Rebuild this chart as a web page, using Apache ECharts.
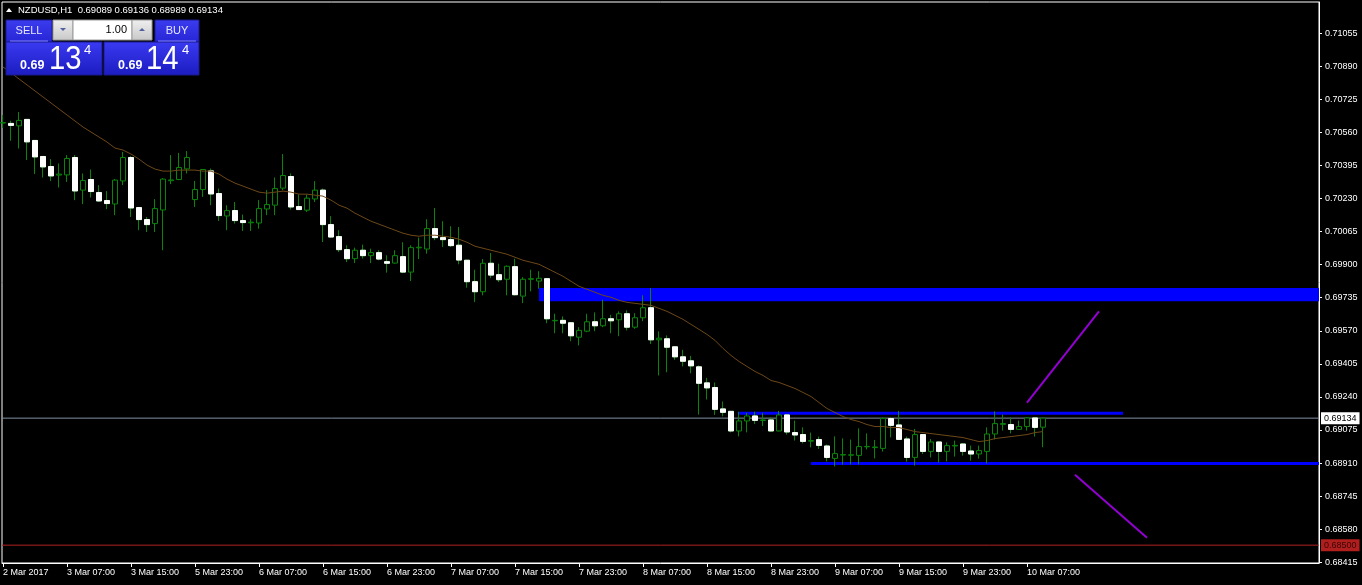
<!DOCTYPE html>
<html><head><meta charset="utf-8">
<script src="https://cdn.jsdelivr.net/npm/echarts@6/dist/echarts.min.js"></script>
<style>html,body{margin:0;padding:0;background:#000;}#c{width:1362px;height:585px;}</style>
</head><body><div id="c"></div>
<script>
// ---- data ----
const symbol = 'NZDUSD,H1';
const open = [
0.70607,0.70605,0.70593,0.70625,0.70520,0.70440,0.70390,0.70347,0.70348,0.70435,
0.70272,0.70325,0.70260,0.70220,0.70203,0.70318,0.70435,0.70185,0.70125,0.70105,
0.70173,0.70319,0.70325,0.70378,0.70225,0.70275,0.70368,0.70255,0.70143,0.70170,
0.70120,0.70109,0.70108,0.70178,0.70197,0.70282,0.70340,0.70190,0.70172,0.70228,
0.70272,0.70100,0.70040,0.69975,0.69930,0.69972,0.69945,0.69960,0.69915,0.69908,
0.69940,0.69863,0.69984,0.69978,0.70080,0.70035,0.70025,0.69997,0.69922,0.69815,
0.69765,0.69907,0.69850,0.69827,0.69890,0.69743,0.69827,0.69818,0.69830,0.69620,
0.69622,0.69610,0.69538,0.69568,0.69615,0.69595,0.69630,0.69625,0.69655,0.69588,
0.69635,0.69685,0.69525,0.69530,0.69490,0.69440,0.69420,0.69390,0.69310,0.69287,
0.69180,0.69168,0.69070,0.69120,0.69145,0.69122,0.69125,0.69070,0.69150,0.69062,
0.69052,0.69019,0.69027,0.68995,0.68933,0.68950,0.68949,0.68948,0.68991,0.68987,
0.68983,0.69132,0.69100,0.69030,0.68938,0.69052,0.68968,0.69015,0.68968,0.68995,
0.69005,0.68970,0.68955,0.68968,0.69055,0.69103,0.69102,0.69078,0.69092,0.69135,
0.69089];
const close = [
0.70609,0.70595,0.70620,0.70513,0.70438,0.70388,0.70343,0.70352,0.70430,0.70268,
0.70320,0.70265,0.70218,0.70205,0.70322,0.70435,0.70183,0.70125,0.70100,0.70180,
0.70327,0.70323,0.70385,0.70435,0.70275,0.70375,0.70253,0.70145,0.70170,0.70120,
0.70110,0.70112,0.70180,0.70200,0.70280,0.70345,0.70188,0.70175,0.70232,0.70272,
0.70100,0.70038,0.69975,0.69930,0.69972,0.69945,0.69960,0.69928,0.69907,0.69945,
0.69863,0.69985,0.69987,0.70080,0.70035,0.70025,0.69995,0.69923,0.69815,0.69765,
0.69907,0.69848,0.69825,0.69892,0.69750,0.69827,0.69830,0.69832,0.69630,0.69622,
0.69608,0.69545,0.69572,0.69615,0.69595,0.69630,0.69620,0.69655,0.69588,0.69635,
0.69685,0.69525,0.69533,0.69488,0.69440,0.69418,0.69395,0.69308,0.69285,0.69178,
0.69163,0.69070,0.69120,0.69145,0.69123,0.69125,0.69070,0.69150,0.69065,0.69050,
0.69018,0.69022,0.68998,0.68938,0.68957,0.68952,0.68951,0.68992,0.68993,0.68990,
0.69132,0.69098,0.69028,0.68938,0.69052,0.68968,0.69015,0.68968,0.68997,0.68998,
0.68968,0.68955,0.68972,0.69055,0.69107,0.69107,0.69078,0.69092,0.69135,0.69088,
0.69134];
const low = [
0.70582,0.70518,0.70480,0.70422,0.70352,0.70335,0.70317,0.70285,0.70313,0.70222,
0.70202,0.70235,0.70214,0.70177,0.70147,0.70297,0.70138,0.70072,0.70063,0.70063,
0.69972,0.70302,0.70322,0.70355,0.70188,0.70238,0.70197,0.70118,0.70072,0.70105,
0.70068,0.70068,0.70080,0.70147,0.70147,0.70272,0.70175,0.70174,0.70163,0.70213,
0.70013,0.70034,0.69963,0.69913,0.69908,0.69930,0.69908,0.69922,0.69860,0.69905,
0.69858,0.69818,0.69928,0.69955,0.70022,0.69988,0.69988,0.69902,0.69785,0.69713,
0.69747,0.69833,0.69813,0.69747,0.69747,0.69708,0.69767,0.69780,0.69608,0.69558,
0.69558,0.69518,0.69497,0.69563,0.69568,0.69588,0.69558,0.69543,0.69572,0.69580,
0.69618,0.69504,0.69347,0.69363,0.69425,0.69392,0.69358,0.69152,0.69227,0.69150,
0.69143,0.69063,0.69043,0.69063,0.69105,0.69095,0.69067,0.69068,0.69052,0.69022,
0.69008,0.68988,0.68980,0.68918,0.68893,0.68902,0.68903,0.68903,0.68978,0.68933,
0.68967,0.69038,0.69027,0.68917,0.68897,0.68955,0.68938,0.68913,0.68918,0.68942,
0.68947,0.68922,0.68932,0.68908,0.69028,0.69072,0.69058,0.69077,0.69072,0.69042,
0.68989];
const high = [
0.70647,0.70618,0.70662,0.70627,0.70522,0.70442,0.70427,0.70405,0.70447,0.70447,
0.70355,0.70375,0.70297,0.70267,0.70327,0.70463,0.70442,0.70187,0.70138,0.70227,
0.70332,0.70447,0.70458,0.70467,0.70318,0.70377,0.70380,0.70280,0.70197,0.70213,
0.70150,0.70127,0.70222,0.70272,0.70335,0.70452,0.70355,0.70250,0.70250,0.70317,
0.70280,0.70142,0.70072,0.69997,0.69985,0.70000,0.69980,0.69972,0.69947,0.69972,
0.70012,0.69997,0.70035,0.70127,0.70183,0.70117,0.70092,0.70088,0.69924,0.69875,
0.69928,0.69958,0.69905,0.69896,0.69930,0.69838,0.69875,0.69867,0.69834,0.69655,
0.69642,0.69612,0.69588,0.69655,0.69662,0.69725,0.69650,0.69667,0.69672,0.69658,
0.69747,0.69783,0.69567,0.69547,0.69492,0.69475,0.69445,0.69397,0.69335,0.69312,
0.69217,0.69170,0.69166,0.69160,0.69166,0.69160,0.69138,0.69170,0.69154,0.69122,
0.69088,0.69062,0.69042,0.69002,0.69043,0.69033,0.69027,0.69083,0.69058,0.69025,
0.69138,0.69138,0.69170,0.69042,0.69080,0.69054,0.69030,0.69018,0.69013,0.69022,
0.69007,0.68997,0.68997,0.69088,0.69168,0.69152,0.69138,0.69122,0.69138,0.69138,
0.69136];
const movingAverage = [
0.70887,0.70857,0.70827,0.70797,0.70767,0.70737,0.70707,0.70677,0.70647,0.70617,
0.70587,0.70562,0.70537,0.70512,0.70482,0.70472,0.70452,0.70427,0.70397,0.70377,
0.70367,0.70367,0.70372,0.70372,0.70372,0.70367,0.70367,0.70352,0.70327,0.70307,
0.70292,0.70277,0.70262,0.70257,0.70262,0.70267,0.70262,0.70252,0.70252,0.70247,
0.70242,0.70222,0.70197,0.70182,0.70157,0.70137,0.70117,0.70102,0.70087,0.70072,
0.70057,0.70047,0.70042,0.70047,0.70047,0.70042,0.70037,0.70027,0.70012,0.69992,
0.69982,0.69972,0.69962,0.69952,0.69937,0.69922,0.69912,0.69902,0.69882,0.69862,
0.69842,0.69817,0.69792,0.69777,0.69762,0.69747,0.69737,0.69722,0.69712,0.69707,
0.69702,0.69697,0.69682,0.69667,0.69647,0.69627,0.69602,0.69577,0.69552,0.69522,
0.69482,0.69447,0.69417,0.69392,0.69367,0.69347,0.69322,0.69312,0.69297,0.69282,
0.69262,0.69242,0.69212,0.69182,0.69162,0.69142,0.69127,0.69117,0.69102,0.69092,
0.69092,0.69087,0.69087,0.69077,0.69067,0.69062,0.69057,0.69052,0.69047,0.69042,
0.69037,0.69027,0.69017,0.69022,0.69032,0.69037,0.69042,0.69047,0.69052,0.69062,
0.69067];
const timeTickIndex = [0,8,16,24,32,40,48,56,64,72,80,88,96,104,112,120,128];
const timeTickLabels = ['2 Mar 2017','3 Mar 07:00','3 Mar 15:00','5 Mar 23:00','6 Mar 07:00','6 Mar 15:00',
  '6 Mar 23:00','7 Mar 07:00','7 Mar 15:00','7 Mar 23:00','8 Mar 07:00','8 Mar 15:00','8 Mar 23:00',
  '9 Mar 07:00','9 Mar 15:00','9 Mar 23:00','10 Mar 07:00'];
const priceTicks = [0.68415,0.68580,0.68745,0.68910,0.69075,0.69240,0.69405,0.69570,0.69735,
  0.69900,0.70065,0.70230,0.70395,0.70560,0.70725,0.70890,0.71055];
const resistanceZone = [67, 0.69783, 0.69718];     // start bar, top, bottom
const upperLevel = [92, 140, 0.69159];             // from bar, to bar, price
const lowerLevel = [101, 164.5, 0.68907];
const trendUp = [[128, 0.69211], [137, 0.69667]];
const trendDown = [[134, 0.68852], [143, 0.68537]];
const bidPrice = 0.69134;
const redLevel = 0.68500;
const lotSize = '1.00';
const bidParts = ['0.69', '13', '4'];
const askParts = ['0.69', '14', '4'];

// ---- chart ----
const FONT = '"Liberation Sans", Arial, sans-serif';
const X_MIN = -0.125, X_MAX = 164.5;
const Y_MIN = 0.68411, Y_MAX = 0.71211;
const GREEN = '#0a840a';
const last = open.length - 1;
const headerText = symbol + '  ' + [open[last], high[last], low[last], close[last]].map(v => v.toFixed(5)).join(' ');

const candleData = open.map((o, i) => [i, o, close[i], low[i], high[i]]);
const bearBodies = open.map((o, i) => [i, o, close[i], Math.min(o, close[i]), Math.max(o, close[i])])
  .filter(d => d[2] < d[1]);
const maData = movingAverage.map((v, i) => [i, v]);

const blueGrad = new echarts.graphic.LinearGradient(0, 0, 0, 1, [
  {offset: 0, color: '#3a3af2'}, {offset: 1, color: '#1c1cc0'}]);
const btnGrad = new echarts.graphic.LinearGradient(0, 0, 0, 1, [
  {offset: 0, color: '#3c3cf0'}, {offset: 1, color: '#2626d6'}]);
const grayGrad = new echarts.graphic.LinearGradient(0, 0, 0, 1, [
  {offset: 0, color: '#f0f0f0'}, {offset: 1, color: '#c8c8c8'}]);

function txt(x, y, text, size, opts) {
  return Object.assign({type: 'text', x: x, y: y, z: 100,
    style: Object.assign({text: text, fill: '#fff', font: size + 'px ' + FONT, align: 'left', verticalAlign: 'middle'}, opts && opts.style || {})},
    opts && opts.el || {});
}

const graphic = [
  {type: 'polygon', z: 100, shape: {points: [[6, 12], [12, 12], [9, 8]]}, style: {fill: '#fff'}},
  txt(18, 10, headerText, 9.5),
  // SELL button
  {type: 'rect', z: 100, shape: {x: 6, y: 20, width: 46, height: 22}, style: {fill: btnGrad, stroke: '#1a1a90', lineWidth: 1}},
  {type: 'line', z: 101, shape: {x1: 10, y1: 41, x2: 48, y2: 41}, style: {stroke: '#8080ff', lineWidth: 1}},
  txt(29, 31, 'SELL', 11, {style: {align: 'center', fill: '#e6e6ff'}}),
  // lot selector
  {type: 'rect', z: 100, shape: {x: 53, y: 20, width: 20, height: 20}, style: {fill: grayGrad, stroke: '#9a9a9a'}},
  {type: 'polygon', z: 101, shape: {points: [[60, 28], [66, 28], [63, 31]]}, style: {fill: '#5060a0'}},
  {type: 'rect', z: 100, shape: {x: 73, y: 20, width: 59, height: 20}, style: {fill: '#fff', stroke: '#9a9a9a'}},
  txt(127, 30, lotSize, 11, {style: {align: 'right', fill: '#000'}}),
  {type: 'rect', z: 100, shape: {x: 132, y: 20, width: 20, height: 20}, style: {fill: grayGrad, stroke: '#9a9a9a'}},
  {type: 'polygon', z: 101, shape: {points: [[139, 31], [145, 31], [142, 28]]}, style: {fill: '#5060a0'}},
  // BUY button
  {type: 'rect', z: 100, shape: {x: 155, y: 20, width: 44, height: 22}, style: {fill: btnGrad, stroke: '#1a1a90', lineWidth: 1}},
  {type: 'line', z: 101, shape: {x1: 158, y1: 41, x2: 196, y2: 41}, style: {stroke: '#8080ff', lineWidth: 1}},
  txt(177, 31, 'BUY', 11, {style: {align: 'center', fill: '#e6e6ff'}}),
  // price boxes
  {type: 'rect', z: 100, shape: {x: 6, y: 42, width: 96, height: 33}, style: {fill: blueGrad, stroke: '#1a1a90'}},
  {type: 'rect', z: 100, shape: {x: 104, y: 42, width: 95, height: 33}, style: {fill: blueGrad, stroke: '#1a1a90'}},
  txt(20, 66, bidParts[0], 12.5, {style: {font: 'bold 12.5px ' + FONT}}),
  txt(49, 60, bidParts[1], 34, {el: {scaleX: 0.86}}),
  txt(84, 50, bidParts[2], 13),
  txt(118, 66, askParts[0], 12.5, {style: {font: 'bold 12.5px ' + FONT}}),
  txt(146, 60, askParts[1], 34, {el: {scaleX: 0.86}}),
  txt(182, 50, askParts[2], 13)
];

const axisFont = {color: '#fff', fontSize: 9, fontFamily: FONT};

function priceLine(name, price, lineColor, boxColor, textColor) {
  return {
    type: 'line', name: name, z: 1, silent: true, showSymbol: false, symbol: 'none',
    data: [[X_MIN, price], [X_MAX, price]],
    lineStyle: {color: lineColor, width: 1},
    endLabel: {show: true, distance: 2, formatter: () => price.toFixed(5),
      backgroundColor: boxColor, color: textColor, padding: [2, 3, 1, 3], fontSize: 9, fontFamily: FONT}
  };
}

const option = {
  animation: false,
  backgroundColor: '#000',
  grid: {left: 2, right: 43, top: 2, bottom: 22, show: true, borderColor: '#fff', borderWidth: 1, backgroundColor: '#000'},
  xAxis: {
    type: 'value', min: X_MIN, max: X_MAX,
    axisLine: {show: true, onZero: false, lineStyle: {color: '#fff', width: 1}},
    axisTick: {show: true, customValues: timeTickIndex, length: 4, lineStyle: {color: '#fff'}},
    axisLabel: Object.assign({customValues: timeTickIndex, align: 'left', margin: 5,
      formatter: v => timeTickLabels[timeTickIndex.indexOf(Math.round(v))] || ''}, axisFont),
    splitLine: {show: false}
  },
  yAxis: {
    type: 'value', position: 'right', min: Y_MIN, max: Y_MAX, scale: true,
    axisLine: {show: true, onZero: false, lineStyle: {color: '#fff', width: 1}},
    axisTick: {show: true, customValues: priceTicks, length: 3, lineStyle: {color: '#fff'}},
    axisLabel: Object.assign({customValues: priceTicks, margin: 6, formatter: v => v.toFixed(5)}, axisFont),
    splitLine: {show: false}
  },
  graphic: graphic,
  series: [
    priceLine('bid', bidPrice, '#8292a2', '#ffffff', '#000000'),
    priceLine('red level', redLevel, '#b22222', '#b01e1e', '#3a0606'),
    {
      type: 'line', name: 'upper level', z: 1, silent: true, showSymbol: false, symbol: 'none',
      data: [[upperLevel[0], upperLevel[2]], [upperLevel[1], upperLevel[2]]],
      lineStyle: {color: '#0000ff', width: 3}
    },
    {
      type: 'line', name: 'lower level', z: 1, silent: true, showSymbol: false, symbol: 'none',
      data: [[lowerLevel[0], lowerLevel[2]], [lowerLevel[1], lowerLevel[2]]],
      lineStyle: {color: '#0000ff', width: 3}
    },
    {
      type: 'candlestick', name: 'candles', z: 2, barWidth: 5,
      encode: {x: 0, y: [1, 2, 3, 4]},
      data: candleData,
      itemStyle: {color: '#000', color0: '#fff', borderColor: GREEN, borderColor0: GREEN, borderWidth: 1},
      markArea: {
        silent: true,
        itemStyle: {color: '#0000ff', opacity: 1},
        data: [[{coord: [resistanceZone[0], resistanceZone[1]]}, {coord: [X_MAX, resistanceZone[2]]}]]
      }
    },
    {
      type: 'candlestick', name: 'bear bodies', z: 3, barWidth: 5,
      encode: {x: 0, y: [1, 2, 3, 4]},
      data: bearBodies,
      itemStyle: {color: '#fff', color0: '#fff', borderColor: '#fff', borderColor0: '#fff', borderWidth: 1}
    },
    {
      type: 'line', name: 'MA', z: 4, silent: true, showSymbol: false, symbol: 'none',
      data: maData, lineStyle: {color: '#6e4818', width: 1}
    },
    {
      type: 'line', name: 'trend up', z: 5, silent: true, showSymbol: false, symbol: 'none',
      data: trendUp, lineStyle: {color: '#9400d3', width: 2}
    },
    {
      type: 'line', name: 'trend down', z: 5, silent: true, showSymbol: false, symbol: 'none',
      data: trendDown, lineStyle: {color: '#9400d3', width: 2}
    }
  ]
};

const chart = echarts.init(document.getElementById('c'), null, {renderer: 'canvas'});
chart.setOption(option);
</script></body></html>
